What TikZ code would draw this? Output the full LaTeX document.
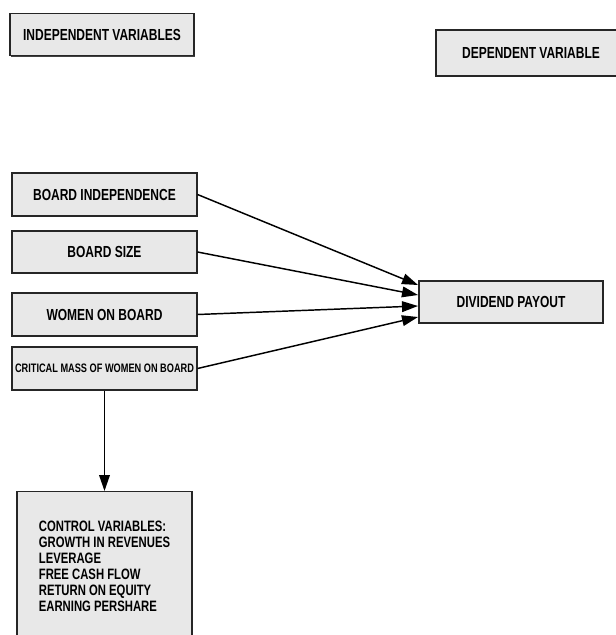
\documentclass[tikz,border=0pt]{standalone}
\usepackage{fontspec}
\setmainfont{Liberation Sans}[FakeStretch=0.75]
\usetikzlibrary{arrows.meta,shadows}

\begin{document}
\begin{tikzpicture}[x=0.75pt,y=-0.75pt,
    box/.style={draw=black!85, line width=0.8pt, fill=black!9,
        drop shadow={shadow xshift=0.7pt, shadow yshift=-0.7pt, fill=black!75, opacity=1},
        font=\bfseries\fontsize{12}{14}\selectfont, inner sep=2pt},
    link/.style={line width=1.1pt, -{Triangle[length=12pt,width=8pt]}}]
    \useasboundingbox (0,0) rectangle (615,635);
    % headings
    \node [box, minimum width=138pt, minimum height=32pt] (iv) at (102,34.5) {INDEPENDENT VARIABLES};
    \node [box, minimum width=142.5pt, minimum height=34.5pt] (dv) at (531,53) {DEPENDENT VARIABLE};
    % independent variables
    \node [box, minimum width=138.75pt, minimum height=32.25pt] (bi) at (104.5,194.5) {BOARD INDEPENDENCE};
    \node [box, minimum width=138.75pt, minimum height=31.5pt] (bs) at (104.5,252) {BOARD SIZE};
    \node [box, minimum width=138.75pt, minimum height=32.25pt] (wob) at (104.5,314.5) {WOMEN ON BOARD};
    \node [box, minimum width=138.75pt, minimum height=32.25pt, font=\bfseries\fontsize{9.2}{11}\selectfont] (cm) at (104.5,368.5) {CRITICAL MASS OF WOMEN ON BOARD};
    % dependent variable
    \node [box, minimum width=138pt, minimum height=31.5pt] (dp) at (511,302) {DIVIDEND PAYOUT};
    % controls
    \node [box, anchor=north, minimum width=131.25pt, minimum height=112.5pt, align=left,
        font=\bfseries\fontsize{11.3}{12}\selectfont] (cv) at (104.5,491)
        {CONTROL VARIABLES:\\GROWTH IN REVENUES\\LEVERAGE\\FREE CASH FLOW\\RETURN ON EQUITY\\EARNING PERSHARE};
    \coordinate (t1) at (418,285);
    \coordinate (t2) at (418,295);
    \coordinate (t3) at (418,306);
    \coordinate (t4) at (418,317);
    \draw [link] (bi.east) -- (t1);
    \draw [link] (bs.east) -- (t2);
    \draw [link] (wob.east) -- (t3);
    \draw [link] (cm.east) -- (t4);
    \draw [link] (cm) -- (cv);
\end{tikzpicture}
\end{document}
